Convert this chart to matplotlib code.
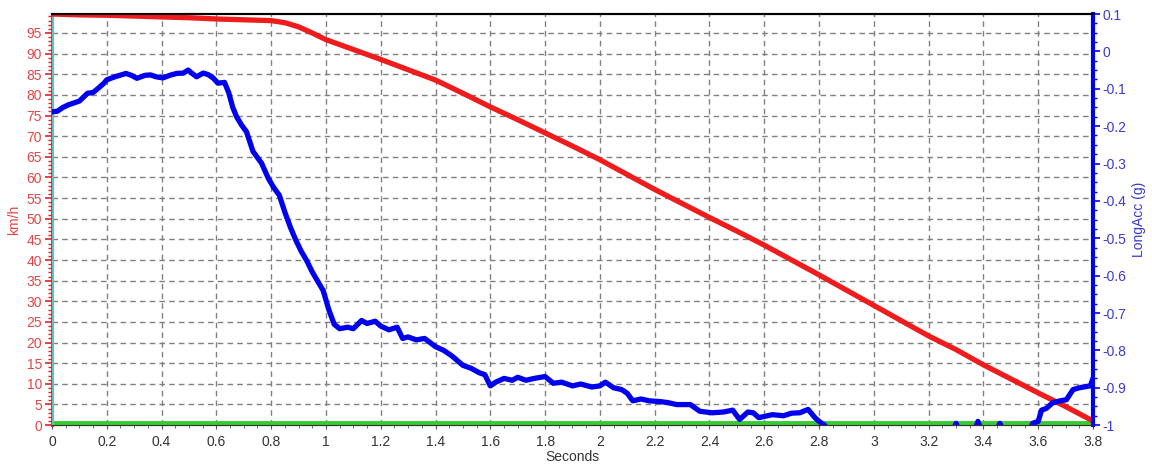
import matplotlib
matplotlib.use("Agg")
import matplotlib.pyplot as plt
from matplotlib.ticker import MultipleLocator, FuncFormatter

plt.rcParams['font.family'] = ['Liberation Sans', 'DejaVu Sans']

# speed (km/h) vs time (s)
t_speed = [0.0, 0.1, 0.2, 0.3, 0.4, 0.5, 0.6, 0.7, 0.8, 0.85, 0.9, 0.95, 1.0,
           1.1, 1.2, 1.3, 1.4, 1.5, 1.6, 1.7, 1.8, 1.9, 2.0, 2.1, 2.2,
           2.3, 2.4, 2.5, 2.6, 2.7, 2.8, 2.9, 3.0, 3.1, 3.2, 3.3, 3.4,
           3.5, 3.6, 3.7, 3.8]
speed = [99.6, 99.4, 99.3, 99.1, 98.9, 98.7, 98.4, 98.2, 98.0, 97.5, 96.5, 95.0, 93.4,
         91.0, 88.6, 86.1, 83.6, 80.4, 77.1, 74.0, 70.8, 67.6, 64.3, 60.7, 57.1,
         53.7, 50.3, 47.0, 43.6, 40.0, 36.4, 32.7, 29.0, 25.3, 21.6, 18.3, 14.6,
         11.2, 7.8, 4.5, 1.0]

# longitudinal acceleration (g) vs time (s)
t_acc = [0.00, 0.02, 0.04, 0.06, 0.08, 0.10, 0.13, 0.15, 0.17, 0.19, 0.20,
         0.23, 0.27, 0.29, 0.31, 0.34, 0.36, 0.38, 0.405, 0.43, 0.455, 0.48,
         0.497, 0.51, 0.528, 0.552, 0.57, 0.588, 0.606, 0.63, 0.645, 0.66,
         0.674, 0.692, 0.71, 0.734, 0.765, 0.79, 0.81, 0.83, 0.85, 0.87,
         0.89, 0.91, 0.93, 0.95, 0.97, 0.99, 1.01, 1.03, 1.05, 1.08, 1.10,
         1.13, 1.15, 1.18, 1.20, 1.23, 1.26, 1.28, 1.30, 1.33, 1.36, 1.40,
         1.43, 1.46, 1.50, 1.53, 1.56, 1.58, 1.60, 1.62, 1.65, 1.68, 1.70,
         1.73, 1.76, 1.80, 1.83, 1.86, 1.90, 1.93, 1.97, 2.00, 2.02, 2.05,
         2.08, 2.10, 2.12, 2.15, 2.18, 2.22, 2.25, 2.28, 2.33, 2.365, 2.41,
         2.45, 2.485, 2.51, 2.54, 2.56, 2.58, 2.63, 2.67, 2.70, 2.73, 2.76,
         2.785, 2.80, 2.82, 2.85, 3.28, 3.30, 3.32, 3.36, 3.38, 3.40, 3.44,
         3.46, 3.48, 3.56, 3.58, 3.60, 3.612, 3.63, 3.653, 3.68, 3.703,
         3.727, 3.75, 3.79, 3.80, 3.806]
acc = [-0.162, -0.160, -0.150, -0.143, -0.138, -0.133, -0.112, -0.110, -0.098,
       -0.085, -0.076, -0.068, -0.059, -0.064, -0.072, -0.064, -0.063, -0.068,
       -0.071, -0.064, -0.059, -0.058, -0.050, -0.058, -0.068, -0.058, -0.062,
       -0.071, -0.085, -0.083, -0.110, -0.150, -0.175, -0.197, -0.215, -0.268,
       -0.299, -0.340, -0.365, -0.385, -0.430, -0.470, -0.505, -0.535, -0.560,
       -0.590, -0.615, -0.640, -0.690, -0.730, -0.742, -0.738, -0.742, -0.720,
       -0.728, -0.722, -0.735, -0.745, -0.738, -0.768, -0.764, -0.772, -0.768,
       -0.790, -0.800, -0.815, -0.840, -0.848, -0.860, -0.865, -0.895, -0.885,
       -0.875, -0.880, -0.872, -0.880, -0.875, -0.870, -0.888, -0.885, -0.895,
       -0.890, -0.898, -0.895, -0.885, -0.900, -0.905, -0.915, -0.935, -0.930,
       -0.935, -0.937, -0.940, -0.945, -0.945, -0.963, -0.967, -0.965, -0.960,
       -0.985, -0.965, -0.967, -0.980, -0.972, -0.975, -0.968, -0.967, -0.958,
       -0.980, -0.990, -1.000, -1.030, -1.030, -0.995, -1.030, -1.030, -0.990,
       -1.030, -1.030, -0.995, -1.030, -1.030, -0.995, -0.990, -0.960, -0.955,
       -0.940, -0.935, -0.932, -0.905, -0.900, -0.895, -0.875, -0.865]

RED = '#ee1c1c'
RED_TXT = '#e04848'
BLUE = '#0000ee'
BLUE_TXT = '#3a3acd'
GREEN = '#33cc33'

fig = plt.figure(figsize=(11.52, 4.75), dpi=100)
ax1 = fig.add_axes([0.0451, 0.105, 0.9037, 0.8655])
ax2 = ax1.twinx()

ax1.plot([0, 3.8], [0.4, 0.4], color=GREEN, lw=3.5, zorder=3, solid_capstyle='butt')
ax1.axvline(0.004, color='#40e0e0', lw=1.2, zorder=3)
ax1.plot(t_speed, speed, color=RED, lw=3.8, zorder=4)
ax2.plot(t_acc, acc, color=BLUE, lw=3.8, zorder=5)

ax1.set_xlim(0, 3.8)
ax1.set_ylim(0, 99.6)
ax2.set_ylim(-1, 0.1)

fmt = FuncFormatter(lambda v, p: '%g' % round(v, 2))
ax1.xaxis.set_major_locator(MultipleLocator(0.2))
ax1.xaxis.set_minor_locator(MultipleLocator(0.05))
ax1.xaxis.set_major_formatter(fmt)
ax1.yaxis.set_major_locator(MultipleLocator(5))
ax1.yaxis.set_minor_locator(MultipleLocator(1))
ax2.yaxis.set_major_locator(MultipleLocator(0.1))
ax2.yaxis.set_minor_locator(MultipleLocator(0.025))
ax2.yaxis.set_major_formatter(fmt)

ax1.grid(True, which='major', color='#808080', ls=(0, (4, 3)), lw=1)
ax1.set_axisbelow(True)

ax1.tick_params(axis='x', which='major', direction='inout', length=6, color='#555555',
                labelsize=10, labelcolor='#333333', pad=4)
ax1.tick_params(axis='x', which='minor', direction='inout', length=4, color='#555555')
ax1.tick_params(axis='y', which='major', length=5, width=1.2, color=RED,
                labelsize=10, labelcolor=RED_TXT, pad=2)
ax1.tick_params(axis='y', which='minor', length=3, width=1, color=RED)
ax2.tick_params(axis='y', which='major', length=5, width=1.2, color=BLUE,
                labelsize=10, labelcolor=BLUE_TXT, pad=2)
ax2.tick_params(axis='y', which='minor', length=3, width=1, color=BLUE)

for a in (ax1, ax2):
    a.spines['top'].set_color('black')
    a.spines['top'].set_linewidth(1.5)
    a.spines['bottom'].set_color('#333333')
ax1.spines['left'].set_color(RED)
ax1.spines['left'].set_linewidth(2)
ax2.spines['left'].set_visible(False)
ax2.spines['right'].set_color(BLUE)
ax2.spines['right'].set_linewidth(3)
ax1.spines['right'].set_visible(False)

ax1.set_xlabel('Seconds', fontsize=10, color='#333333', labelpad=1)
ax1.set_ylabel('km/h', fontsize=10, color=RED_TXT, labelpad=4)
ax2.set_ylabel('LongAcc (g)', fontsize=10, color=BLUE_TXT, labelpad=4)

fig.savefig('out.png', dpi=100)
